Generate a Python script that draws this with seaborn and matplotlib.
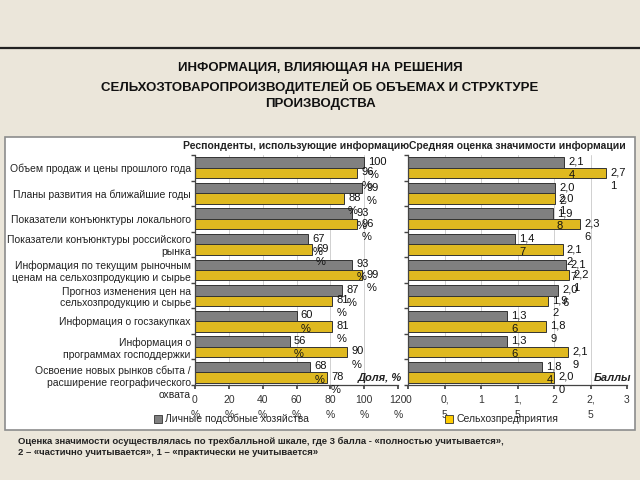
import pandas as pd
import matplotlib.pyplot as plt
import matplotlib.transforms as mtransforms
import seaborn as sns
from matplotlib.patches import Rectangle

# data
categories = [
    "Объем продаж и цены прошлого года",
    "Планы развития на ближайшие годы",
    "Показатели конъюнктуры локального",
    "Показатели конъюнктуры российского\nрынка",
    "Информация по текущим рыночным\nценам на сельхозпродукцию и сырье",
    "Прогноз изменения цен на\nсельхозпродукцию и сырье",
    "Информация о госзакупках",
    "Информация о\nпрограммах господдержки",
    "Освоение новых рынков сбыта /\nрасширение географического\nохвата",
]
groups = ["Личные подсобные хозяйства", "Сельхозпредприятия"]
share_lph = [100, 99, 93, 67, 93, 87, 60, 56, 68]
share_agro = [96, 88, 96, 69, 99, 81, 81, 90, 78]
score_lph = [2.14, 2.02, 1.98, 1.47, 2.17, 2.06, 1.36, 1.36, 1.84]
score_agro = [2.71, 2.01, 2.36, 2.12, 2.21, 1.92, 1.89, 2.19, 2.00]
share_ticks = [0, 20, 40, 60, 80, 100, 120]
score_ticks = [0, 0.5, 1, 1.5, 2, 2.5, 3]

colors = {"Личные подсобные хозяйства": "#808080", "Сельхозпредприятия": "#FFCC00"}

sns.set_theme(style="white")
plt.rcParams["font.family"] = ["Liberation Sans", "DejaVu Sans"]

fig = plt.figure(figsize=(6.4, 4.8), dpi=100)
fig.patch.set_facecolor("#EBE6DA")

# top rule and white panel behind the charts
fig.add_artist(plt.Line2D([0, 1], [1 - 48 / 480, 1 - 48 / 480], color="#222222", lw=1.6))
fig.add_artist(Rectangle((5 / 640, 1 - 430 / 480), 630 / 640, 293 / 480,
                         facecolor="white", edgecolor="#8C8C8C", lw=1.2, zorder=-5))

fig.text(0.5, 1 - 86 / 480,
         "ИНФОРМАЦИЯ, ВЛИЯЮЩАЯ НА РЕШЕНИЯ\nСЕЛЬХОЗТОВАРОПРОИЗВОДИТЕЛЕЙ ОБ ОБЪЕМАХ И СТРУКТУРЕ\nПРОИЗВОДСТВА",
         ha="center", va="center", fontsize=9.5, fontweight="bold", linespacing=1.45,
         color="#111111")

fig.text(18 / 640, 1 - 447 / 480,
         "Оценка значимости осуществлялась по трехбалльной шкале, где 3 балла - «полностью учитывается»,\n"
         "2 – «частично учитывается», 1 – «практически не учитывается»",
         ha="left", va="center", fontsize=6.8, fontweight="bold", color="#222222", linespacing=1.3)


def make_frame(a, b):
    return pd.DataFrame({
        "cat": categories * 2,
        "val": list(a) + list(b),
        "group": [groups[0]] * len(a) + [groups[1]] * len(b),
    })


def draw_panel(ax, frame, ticks, ticklabels, fmt, title, unit):
    sns.barplot(data=frame, y="cat", x="val", hue="group", hue_order=groups,
                palette=colors, orient="h", width=0.82, edgecolor="#333333",
                linewidth=0.7, legend=False, ax=ax)
    ax.set_facecolor("none")
    ax.set_xlim(ticks[0], ticks[-1])
    ax.set_xticks(ticks)
    ax.set_xticklabels(ticklabels, fontsize=7.5, color="#333333", linespacing=1.6)
    ax.grid(axis="x", color="#D0D0D0", lw=0.7)
    ax.set_axisbelow(True)
    ax.set_xlabel("")
    ax.set_ylabel("")
    for s in ["top", "right"]:
        ax.spines[s].set_visible(False)
    for s in ["left", "bottom"]:
        ax.spines[s].set_color("#444444")
        ax.spines[s].set_linewidth(0.9)
    ax.set_yticks([i - 0.5 for i in range(len(categories) + 1)], minor=True)
    ax.tick_params(axis="y", which="minor", length=3, color="#444444", left=True)
    ax.tick_params(axis="y", which="major", length=0)
    ax.tick_params(axis="x", length=3, color="#444444", bottom=True, pad=4)
    ax.set_title(title, fontsize=7.5, fontweight="bold", color="#222222", pad=4)
    ax.text(1.02, 0.03, unit, transform=ax.transAxes, ha="right", va="center",
            fontsize=8, fontweight="bold", style="italic", color="#222222")
    for cont in ax.containers:
        for bar in cont:
            v = bar.get_width()
            ax.annotate(fmt(v), (v, bar.get_y() + bar.get_height() / 2),
                        xytext=(3, 4), textcoords="offset points",
                        ha="left", va="top", fontsize=8, color="#111111", linespacing=1.4)


def fmt_share(v):
    return f"{int(round(v))}\n%"


def fmt_score(v):
    s = f"{v:.2f}".replace(".", ",")
    return s[:3] + "\n" + s[3:]


ax1 = fig.add_axes([195 / 640, 1 - 385 / 480, 203 / 640, 230 / 480])
draw_panel(ax1, make_frame(share_lph, share_agro), share_ticks,
           [f"{t}\n%" for t in share_ticks], fmt_share,
           "Респонденты, использующие информацию", "Доля, %")
ax1.tick_params(axis="y", labelsize=7.5, labelcolor="#222222", pad=3)

# the last label hangs down from its row, as in the reference
last = ax1.get_yticklabels()[-1]
last.set_verticalalignment("top")
last.set_transform(last.get_transform() +
                   mtransforms.ScaledTranslation(0, 5 / 72, fig.dpi_scale_trans))

ax2 = fig.add_axes([408 / 640, 1 - 385 / 480, 219 / 640, 230 / 480])
draw_panel(ax2, make_frame(score_lph, score_agro), score_ticks,
           ["0", "0,\n5", "1", "1,\n5", "2", "2,\n5", "3"], fmt_score,
           "Средняя оценка значимости информации", "Баллы")
ax2.set_yticklabels([])

handles = [Rectangle((0, 0), 1, 1, facecolor=colors[g], edgecolor="#333333", lw=0.6) for g in groups]
fig.legend(handles, groups, loc="center", bbox_to_anchor=(356 / 640, 1 - 419 / 480), ncol=2,
           frameon=False, fontsize=7.5, columnspacing=13, handlelength=0.8, handleheight=0.8,
           handletextpad=0.3)

fig.savefig("out.png", dpi=100, facecolor=fig.get_facecolor())
